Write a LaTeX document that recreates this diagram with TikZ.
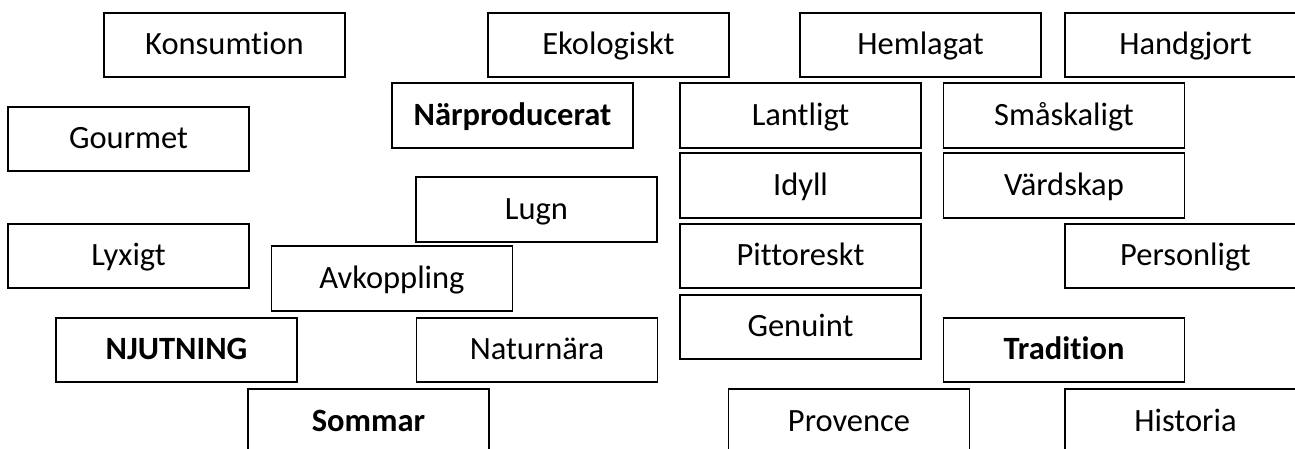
\documentclass[tikz,border=0pt]{standalone}
\usepackage{fontspec}
\setmainfont{Carlito}[Ligatures=NoCommon]
\begin{document}
\begin{tikzpicture}[x=1pt,y=-1pt,
  word/.style={draw=black, line width=1.8pt, minimum width=241pt, minimum height=64.5pt,
    inner sep=0pt, text height=23pt, text depth=4pt, font=\fontsize{32.5}{38}\selectfont},
  key/.style={word, font=\fontsize{32.5}{38}\selectfont\bfseries}]
\useasboundingbox (0,0) rectangle (1295,448);
\clip (0,0) rectangle (1295,448);
\node[word] (konsumtion) at (224.5,45) {Konsumtion};
\node[word] (ekologiskt) at (608.5,45) {Ekologiskt};
\node[word] (hemlagat) at (920.5,45) {Hemlagat};
\node[word] (handgjort) at (1185.5,45) {Handgjort};
\node[key] (narproducerat) at (512.5,115.5) {Närproducerat};
\node[word] (lantligt) at (800.5,115.5) {Lantligt};
\node[word] (smaskaligt) at (1064,115.5) {Småskaligt};
\node[word] (gourmet) at (128.5,139) {Gourmet};
\node[word] (idyll) at (800.5,185.5) {Idyll};
\node[word] (vardskap) at (1064,185.5) {Värdskap};
\node[word] (lugn) at (536.5,209.5) {Lugn};
\node[word] (lyxigt) at (128.5,256) {Lyxigt};
\node[word] (pittoreskt) at (800.5,256) {Pittoreskt};
\node[word] (personligt) at (1185.5,256) {Personligt};
\node[word] (avkoppling) at (392,278.5) {Avkoppling};
\node[word] (genuint) at (800.5,327) {Genuint};
\node[key] (njutning) at (176.5,350) {NJUTNING};
\node[word] (naturnara) at (537,350) {Naturnära};
\node[key] (tradition) at (1064,350) {Tradition};
\node[key] (sommar) at (368.5,421.5) {Sommar};
\node[word] (provence) at (849,421.5) {Provence};
\node[word] (historia) at (1185.5,421.5) {Historia};
\end{tikzpicture}
\end{document}
